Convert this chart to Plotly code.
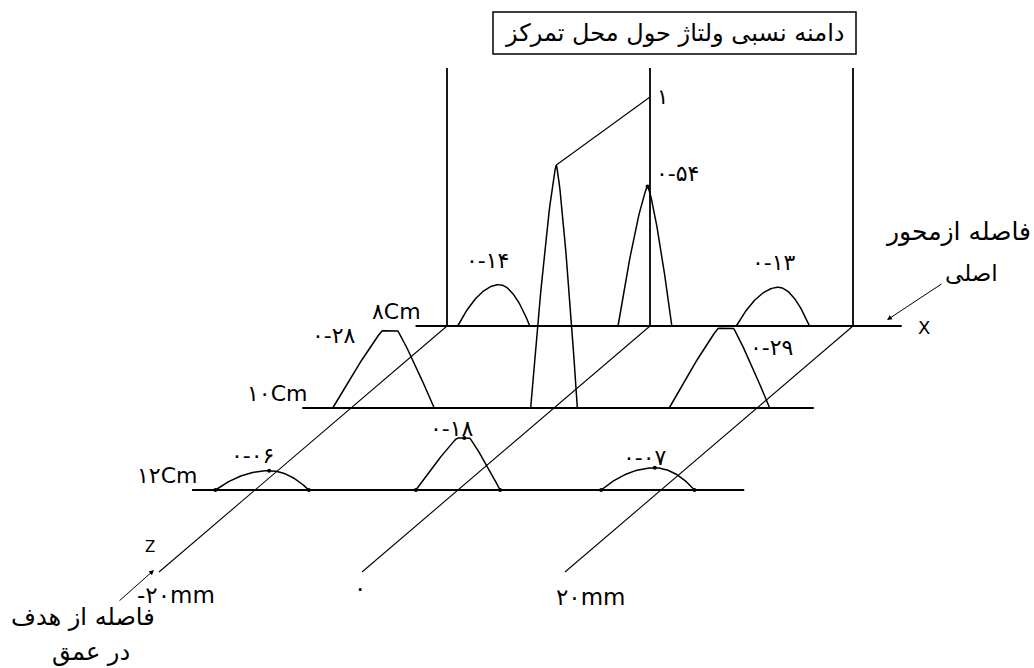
import numpy as np
import plotly.graph_objects as go

# ---------------- data ----------------
depth_planes_cm = [8, 10, 12]
plane_labels = ["۸Cm", "۱۰Cm", "۱۲Cm"]
plane_start_mm = [-23.1, -24.8, -26.2]
plane_end_mm = [24.8, 25.6, 28.2]

axis_positions_mm = [-20, 0, 20]
axis_tick_labels = ["-۲۰mm", "۰", "۲۰mm"]

peak_depth_cm = [8, 8, 8, 10, 10, 10, 12, 12, 12]
peak_pos_mm = [-15.4, -0.5, 12.1, -16.8, 0.0, 16.3, -19.3, 0.0, 18.7]
peak_value = [0.14, 0.54, 0.13, 0.28, 1.0, 0.29, 0.06, 0.18, 0.07]
peak_width_mm = [7.1, 5.3, 7.2, 10.0, 4.6, 9.9, 9.2, 8.3, 9.2]
peak_kind = ["round", "sharp", "round", "flat", "sharp", "flat", "low", "flat", "low"]
peak_labels = ["۰-۱۴", "۰-۵۴", "۰-۱۳", "۰-۲۸", "۱", "۰-۲۹", "۰-۰۶", "۰-۱۸", "۰-۰۷"]

title_text = "دامنه نسبی ولتاژ حول محل تمرکز"
x_axis_name = "X"
x_axis_desc = ["فاصله ازمحور", "اصلی"]
z_axis_name = "Z"
z_axis_desc = ["فاصله از هدف", "در عمق"]

# ---------------- projection (oblique view) ----------------
X0, Y0 = 650.0, 326.0          # screen point of x=0mm, depth 8cm, amplitude 0
PX_PER_MM = 10.15
DX_PER_CM, DY_PER_CM = -48.0, 41.0
AMP_PX, AMP_EXP = 243.0, 0.9
VERT_H = 258.0
LEADER_H = 229.0
DEPTH_END = 14
FONT = "DejaVu Sans"


def proj(x_mm, depth_cm, amp_px=0.0):
    x_mm, amp_px = np.broadcast_arrays(np.asarray(x_mm, dtype=float),
                                       np.asarray(amp_px, dtype=float))
    sx = X0 + x_mm * PX_PER_MM + (depth_cm - 8) * DX_PER_CM
    sy = Y0 + (depth_cm - 8) * DY_PER_CM - amp_px
    return sx, sy


def amp_to_px(v):
    return AMP_PX * v ** AMP_EXP


def profile(u, kind):
    u = np.clip(u, 0, 1)
    if kind == "sharp":
        return 1 - u ** 1.3
    if kind == "round":
        return 1 - u ** 1.9
    if kind == "flat":
        f = 0.15
        return np.where(u < f, 1.0, 1 - ((u - f) / (1 - f)) ** 1.1)
    return 1 - u ** 2


fig = go.Figure()


def add_line(xs, ys, width=1.6, color="black"):
    fig.add_trace(go.Scatter(x=np.atleast_1d(xs).tolist(), y=np.atleast_1d(ys).tolist(),
                             mode="lines", line=dict(color=color, width=width),
                             hoverinfo="skip", showlegend=False))


# plane base lines
for d, s, e in zip(depth_planes_cm, plane_start_mm, plane_end_mm):
    xs, ys = proj([s, e], d)
    add_line(xs, ys, width=1.8)

# vertical amplitude lines at the back plane
for p in axis_positions_mm:
    xs, ys = proj([p, p], 8, [0, VERT_H])
    add_line(xs, ys, width=1.8)

# depth (z) lines
for p in axis_positions_mm:
    xa, ya = proj(p, 8)
    xb, yb = proj(p, DEPTH_END)
    add_line([float(xa), float(xb)], [float(ya), float(yb)], width=1.1)

# peaks
dot_x, dot_y = [], []
tops = []
for d, p, v, w, k in zip(peak_depth_cm, peak_pos_mm, peak_value, peak_width_mm, peak_kind):
    half = w / 2.0
    skew = 0.15 * half if k != "sharp" else 0.1 * half
    top = p + skew
    left = np.linspace(p - half, top, 40)
    right = np.linspace(top, p + half, 40)[1:]
    ul = (top - left) / (top - (p - half))
    ur = (right - top) / ((p + half) - top)
    xm = np.concatenate([left, right])
    prof = np.concatenate([profile(ul, k), profile(ur, k)])
    h = amp_to_px(v)
    xs, ys = proj(xm, d, prof * h)
    add_line(xs, ys, width=1.5)
    tx, ty = proj(top, d, h)
    tops.append((float(tx), float(ty)))
    if d == 12:
        bx, by = proj([p - half, p + half], d)
        dot_x += bx.tolist() + [float(tx)]
        dot_y += by.tolist() + [float(ty)]
    if abs(v - 0.54) < 1e-9:
        dot_x.append(float(tx))
        dot_y.append(float(ty))

fig.add_trace(go.Scatter(x=dot_x, y=dot_y, mode="markers",
                         marker=dict(color="black", size=4),
                         hoverinfo="skip", showlegend=False))

annotations = []


def txt(x, y, s, size=19, xanchor="center"):
    annotations.append(dict(x=float(x), y=float(y), xref="x", yref="y", text=s, showarrow=False,
                            xanchor=xanchor, yanchor="middle",
                            font=dict(family=FONT, size=size, color="black")))


# peak value labels, placed relative to the peak base centre
label_offsets = [(-6, -66), (33, -153), (1, -64), (-49, -73), None, (52, -61),
                 (-10, -35), (-6, -62), (-3, -33)]
for i, (d, p, lab) in enumerate(zip(peak_depth_cm, peak_pos_mm, peak_labels)):
    bx, by = proj(p, d)
    off = label_offsets[i]
    if off is None:
        # leader line from the peak top to the central vertical axis
        tx, ty = tops[i]
        ex, ey = proj(0, 8, LEADER_H)
        add_line([tx, float(ex)], [ty, float(ey)], width=1.1)
        txt(float(ex) + 5, float(ey), lab, size=21, xanchor="left")
    else:
        txt(float(bx) + off[0], float(by) + off[1], lab, size=22)

# plane labels
for d, s, lab in zip(depth_planes_cm, plane_start_mm, plane_labels):
    sx, sy = proj(s, d)
    txt(float(sx) + 7, float(sy) - 15, lab, size=22, xanchor="right")

# axis tick labels at the front end of depth lines
tick_offsets = [(17, 23), (-2, 16), (26, 25)]
for p, lab, off in zip(axis_positions_mm, axis_tick_labels, tick_offsets):
    ex, ey = proj(p, DEPTH_END)
    txt(float(ex) + off[0], float(ey) + off[1], lab, size=23)

# title
txt(675, 33, title_text, size=24)
shapes = [dict(type="rect", xref="x", yref="y", x0=493, x1=856, y0=12, y1=54,
               line=dict(color="black", width=1.5))]

# X axis name and description with arrow
xe, ye = proj(plane_end_mm[0], 8)
txt(float(xe) + 22, float(ye) + 1, x_axis_name, size=18)
txt(958, 231, x_axis_desc[0], size=25)
txt(971, 273, x_axis_desc[1], size=23)
annotations.append(dict(x=887, y=320, ax=943, ay=283, xref="x", yref="y",
                        axref="x", ayref="y", showarrow=True, arrowhead=2,
                        arrowsize=1, arrowwidth=1, arrowcolor="black", text=""))

# Z axis name and description with arrow
zx, zy = proj(axis_positions_mm[0], DEPTH_END)
txt(float(zx) - 9, float(zy) - 25, z_axis_name, size=15)
annotations.append(dict(x=float(zx) - 5, y=float(zy) - 2, ax=118, ay=602, xref="x", yref="y",
                        axref="x", ayref="y", showarrow=True, arrowhead=2,
                        arrowsize=1, arrowwidth=1, arrowcolor="black", text=""))
txt(83, 617, z_axis_desc[0], size=24)
txt(91, 652, z_axis_desc[1], size=24)

fig.update_layout(
    width=1034, height=668, autosize=False,
    margin=dict(l=0, r=0, t=0, b=0, pad=0),
    paper_bgcolor="white", plot_bgcolor="white",
    xaxis=dict(range=[0, 1034], visible=False, fixedrange=True),
    yaxis=dict(range=[668, 0], visible=False, fixedrange=True),
    annotations=annotations, shapes=shapes, showlegend=False,
)

fig.write_html("out.html", config={"displayModeBar": False},
               post_script="document.body.style.margin='0';")
